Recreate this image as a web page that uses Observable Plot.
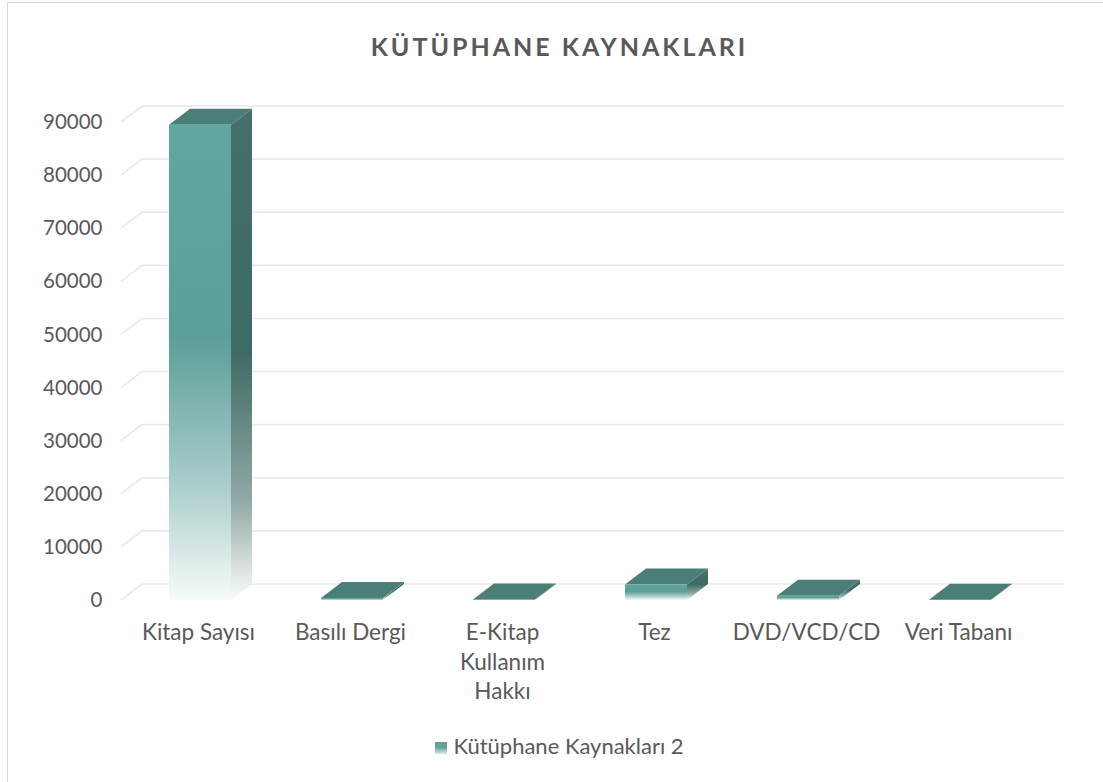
<!DOCTYPE html>
<html>
<head>
<meta charset="utf-8">
<script src="https://cdn.jsdelivr.net/npm/d3@7"></script>
<script src="https://cdn.jsdelivr.net/npm/@observablehq/plot@0.6"></script>
<style>
  html, body { margin: 0; padding: 0; background: #fff; overflow: hidden; }
  #frame { position: absolute; left: 7px; top: 2px; width: 1120px; height: 800px;
           border-left: 1.5px solid #d9d9d9; border-top: 1.5px solid #d9d9d9; background: #fff; }
  #title { position: absolute; left: 0; top: 0; width: 1103px; height: 86px; text-align: center;
           font-family: Lato, "Open Sans", sans-serif; font-weight: bold; font-size: 25px;
           letter-spacing: 3px; color: #595959; line-height: 86px; }
  #chart { position: absolute; left: 0; top: 86px; }
  #legend { position: absolute; left: 0; top: 729px; width: 1103px; text-align: center;
            font-family: Lato, "Open Sans", sans-serif; font-size: 22px; color: #595959; }
  #legend .sw { display: inline-block; width: 12px; height: 12px; margin-right: 6px; vertical-align: 0px;
                background: linear-gradient(#5fa39d 0%, #5fa39d 45%, #d6e9e7 100%); }
</style>
</head>
<body>
<div id="frame">
  <div id="title">KÜTÜPHANE KAYNAKLARI</div>
  <div id="chart"></div>
  <div id="legend"><span class="sw"></span>Kütüphane Kaynakları 2</div>
</div>
<script>
// ---- data ----
const categories = ["Kitap Sayısı", "Basılı Dergi", "E-Kitap Kullanım Hakkı", "Tez", "DVD/VCD/CD", "Veri Tabanı"];
const tickLabels = ["Kitap Sayısı", "Basılı Dergi", "E-Kitap\nKullanım\nHakkı", "Tez", "DVD/VCD/CD", "Veri Tabanı"];
const values = [89500, 400, 100, 2900, 800, 50];
const yTicks = [0, 10000, 20000, 30000, 40000, 50000, 60000, 70000, 80000, 90000];
const seriesName = "Kütüphane Kaynakları 2";

const rows = categories.map((c, i) => ({category: c, value: values[i], label: tickLabels[i]}));

// 3D depth offsets (pixels)
const DX = 21, DY = -16;

const ns = "http://www.w3.org/2000/svg";
function el(name, attrs) {
  const e = document.createElementNS(ns, name);
  for (const k in attrs) e.setAttribute(k, attrs[k]);
  return e;
}

// defs with gradients
function defsMark() {
  const defs = el("defs", {});
  const g1 = el("linearGradient", {id: "gFront", x1: 0, y1: 0, x2: 0, y2: 1});
  [[0, "#62a6a0"], [0.45, "#5c9f99"], [0.75, "#a8ccc9"], [1, "#f7fbfa"]].forEach(([o, c]) =>
    g1.appendChild(el("stop", {offset: o, "stop-color": c})));
  const g2 = el("linearGradient", {id: "gSide", x1: 0, y1: 0, x2: 0, y2: 1});
  [[0, "#446f6a"], [0.5, "#3f6b66"], [0.8, "#92aaa7"], [1, "#fbfcfc"]].forEach(([o, c]) =>
    g2.appendChild(el("stop", {offset: o, "stop-color": c})));
  defs.appendChild(g1); defs.appendChild(g2);
  return defs;
}

// back-wall grid with left diagonal (3D)
function gridMark(index, scales, values, dims) {
  const g = el("g", {});
  const {y} = scales;
  const x0 = dims.marginLeft;
  const x1 = dims.width - dims.marginRight + DX + 5;
  for (const t of yTicks) {
    const yy = y(t);
    g.appendChild(el("path", {
      d: `M${x0},${yy}L${x0 + DX},${yy + DY}L${x1},${yy + DY}`,
      fill: "none", stroke: "#e9e9e9", "stroke-width": 1.6
    }));
  }
  return g;
}

// side + top faces of 3D columns
function facesMark(index, scales, vals, dims) {
  const g = el("g", {});
  const {x, y} = scales;
  const bw = x.bandwidth();
  rows.forEach(r => {
    const xa = x(r.category), xb = xa + bw;
    const yv = y(r.value), y0 = y(0);
    g.appendChild(el("path", {
      d: `M${xb},${yv}L${xb + DX},${yv + DY}L${xb + DX},${y0 + DY}L${xb},${y0}Z`,
      fill: "url(#gSide)"
    }));
    g.appendChild(el("path", {
      d: `M${xa},${yv}L${xb},${yv}L${xb + DX},${yv + DY}L${xa + DX},${yv + DY}Z`,
      fill: "#4a7e77"
    }));
  });
  return g;
}

const chart = Plot.plot({
  width: 1100,
  height: 640,
  marginTop: 33,
  marginBottom: 129,
  marginLeft: 113,
  marginRight: 70,
  style: {fontFamily: "Lato, 'Open Sans', sans-serif", fontSize: "20.5px", color: "#595959", background: "transparent"},
  x: {domain: categories, paddingInner: 0.595, paddingOuter: 0.3, align: 0.5, axis: null},
  y: {domain: [0, 90000], axis: null},
  marks: [
    defsMark,
    gridMark,
    Plot.axisY({ticks: yTicks, tickSize: 0, tickPadding: 19, tickFormat: d => String(d), label: null, fontSize: 20.5, fill: "#595959"}),
    facesMark,
    Plot.barY(rows, {x: "category", y: "value", fill: "url(#gFront)"}),
    Plot.text(rows, {x: "category", y: 0, text: "label", lineAnchor: "top", dx: -2, dy: 19, lineHeight: 1.3, fontSize: 22.5, fill: "#595959"})
  ]
});
document.getElementById("chart").appendChild(chart);
</script>
</body>
</html>
